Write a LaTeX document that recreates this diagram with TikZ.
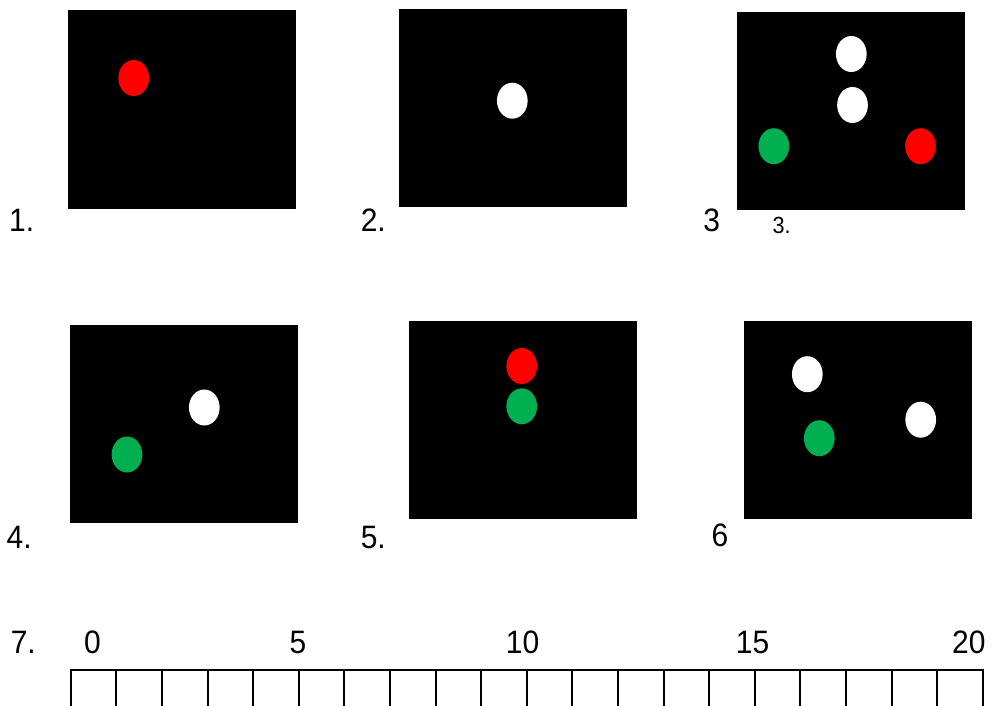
\documentclass[tikz,border=0pt]{standalone}
\usepackage{fontspec}
\setmainfont{Liberation Sans}
\usetikzlibrary{shapes.geometric}
\definecolor{lampred}{HTML}{FF0000}
\definecolor{lampgreen}{HTML}{00B050}
\begin{document}
\begin{tikzpicture}[x=1pt, y=-1pt,
    panel/.style={fill=black, minimum width=228pt, minimum height=198pt, inner sep=0pt},
    lamp/.style={ellipse, minimum width=30.7pt, minimum height=36pt, inner sep=0pt},
    num/.style={font=\fontsize{30}{34}\selectfont, anchor=base, inner sep=0pt, yscale=1.08, transform shape}]
      \useasboundingbox (0,0) rectangle (993,706);

      % Quadros 1 a 3
      \node[panel] (p1) at (181.5,109.5) {};
      \node[panel] (p2) at (512.5,108) {};
      \node[panel] (p3) at (851.3,110.8) {};

      % Quadros 4 a 6
      \node[panel] (p4) at (184.3,424) {};
      \node[panel] (p5) at (523.2,420.2) {};
      \node[panel] (p6) at (857.7,420.3) {};

      % Luzes
      \node[lamp, fill=lampred] (l1a) at (133.7,78) {};
      \node[lamp, fill=white] (l2a) at (512.3,100.7) {};
      \node[lamp, fill=white] (l3a) at (851.3,54) {};
      \node[lamp, fill=white] (l3b) at (852.5,105) {};
      \node[lamp, fill=lampgreen] (l3c) at (773.8,146.2) {};
      \node[lamp, fill=lampred] (l3d) at (920.5,146.2) {};
      \node[lamp, fill=white] (l4a) at (204.3,407.5) {};
      \node[lamp, fill=lampgreen] (l4b) at (127,454.5) {};
      \node[lamp, fill=lampred] (l5a) at (521.7,366) {};
      \node[lamp, fill=lampgreen] (l5b) at (521.7,406.3) {};
      \node[lamp, fill=white] (l6a) at (807.3,374.2) {};
      \node[lamp, fill=white] (l6b) at (920.7,419.7) {};
      \node[lamp, fill=lampgreen] (l6c) at (819.3,438.2) {};

      % Numeros
      \node[num] (n1) at (21.7,231.7) {1.};
      \node[num] (n2) at (373.3,231.7) {2.};
      \node[num] (n3) at (711.7,231.7) {3};
      \node[num, font=\fontsize{21.6}{24}\selectfont] (n3b) at (781.7,233.3) {3.};
      \node[num] (n4) at (19.2,548.3) {4.};
      \node[num] (n5) at (373.3,548.3) {5.};
      \node[num] (n6) at (720,546) {6};
      \node[num] (n7) at (23.3,653.3) {7.};

      % Regua
      \node[num] (r0) at (92.5,653.3) {0};
      \node[num] (r5) at (298,653.3) {5};
      \node[num] (r10) at (522.5,653.3) {10};
      \node[num] (r15) at (752.5,653.3) {15};
      \node[num] (r20) at (968.8,653.3) {20};
      \coordinate (a) at (70.7,670);
      \coordinate (b) at (982.7,670);
      \draw[line width=2pt] (a) ++(0,36) |- (b) -- ++(0,36);
      \foreach \i in {1,...,19}
        \draw[line width=2pt] ([xshift=\i*45.6pt]a) -- ++(0,36);
    \end{tikzpicture}
\end{document}
